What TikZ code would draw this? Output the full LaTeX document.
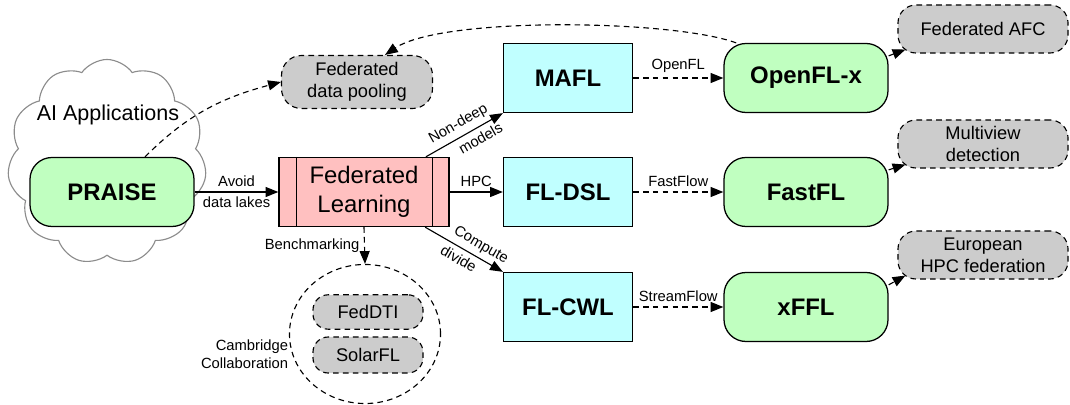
\documentclass[tikz,border=0pt]{standalone}
\usepackage{fontspec}
\setmainfont{Liberation Sans}
\usetikzlibrary{arrows.meta,shapes.symbols,shapes.geometric}

\definecolor{appgreen}{HTML}{C0FFC0}
\definecolor{toolcyan}{HTML}{C0FFFF}
\definecolor{flpink}{HTML}{FFC0C0}
\definecolor{usegray}{HTML}{CCCCCC}
\definecolor{cloudgray}{HTML}{8C8C8C}

\newcommand{\bigfont}{\fontsize{17}{20.4}\selectfont}
\newcommand{\midfont}{\fontsize{13}{15.6}\selectfont}
\newcommand{\cloudfont}{\fontsize{15.3}{18}\selectfont}
\newcommand{\lblfont}{\fontsize{10.5}{12.6}\selectfont}

\begin{document}
\begin{tikzpicture}[x=0.025cm, y=0.025cm]

%-------------------------------------------------
% Styles
%-------------------------------------------------
\tikzset{
  app/.style={rectangle, rounded corners=0.55cm, draw, line width=0.9pt, fill=appgreen,
    minimum width=4.1cm, minimum height=1.725cm, font=\bigfont\bfseries},
  tool/.style={rectangle, draw, line width=0.9pt, fill=toolcyan,
    minimum width=3.225cm, minimum height=1.725cm, font=\bigfont\bfseries},
  flbox/.style={rectangle, draw, line width=0.9pt, fill=flpink, align=center,
    minimum width=4.25cm, minimum height=1.725cm, font=\bigfont},
  usecase/.style={rectangle, rounded corners=0.45cm, draw, line width=0.8pt,
    dash pattern=on 4pt off 3pt, fill=usegray, align=center,
    minimum width=4.25cm, minimum height=1.2cm, font=\midfont},
  flow/.style={-{Triangle[length=3.2mm,width=2.5mm]}, line width=0.8pt},
  dashflow/.style={flow, dash pattern=on 4pt off 3pt},
  lbl/.style={font=\lblfont}
}

\useasboundingbox (0,0) rectangle (1070,-405);

%-------------------------------------------------
% AI applications cloud
%-------------------------------------------------
\node[cloud, cloud puffs=11, cloud puff arc=110, draw=cloudgray, line width=0.8pt,
  fill=white, minimum width=4.975cm, minimum height=5.125cm] (cloud) at (107,-162) {};
\node[font=\cloudfont] (apps) at (108,-115) {AI Applications};

\node[app] (praise) at (112,-192) {PRAISE};

%-------------------------------------------------
% Federated learning
%-------------------------------------------------
\node[flbox] (fl) at (364,-192) {Federated\\Learning};
\draw[line width=0.9pt] ([xshift=0.45cm]fl.north west) -- ([xshift=0.45cm]fl.south west);
\draw[line width=0.9pt] ([xshift=-0.42cm]fl.north east) -- ([xshift=-0.42cm]fl.south east);

\node[usecase, minimum width=3.775cm, minimum height=1.325cm, rounded corners=0.5cm]
  (pooling) at (357,-82) {Federated\\data pooling};

% Cambridge collaboration
\node[ellipse, draw, line width=0.8pt, dash pattern=on 4pt off 3pt, inner sep=0pt,
  minimum width=3.775cm, minimum height=3.475cm] (cambridge) at (365,-334) {};
\node[usecase, minimum width=2.75cm, minimum height=0.86cm, rounded corners=0.38cm]
  (feddti) at (368,-312) {FedDTI};
\node[usecase, minimum width=2.75cm, minimum height=0.9cm, rounded corners=0.38cm]
  (solarfl) at (368,-355) {SolarFL};
\node[lbl, anchor=east, align=right] (camlabel) at (293,-354) {Cambridge\\Collaboration};

%-------------------------------------------------
% Tools and frameworks
%-------------------------------------------------
\node[tool] (mafl) at (568,-78) {MAFL};
\node[tool] (fldsl) at (568,-192) {FL-DSL};
\node[tool] (flcwl) at (568,-307) {FL-CWL};

\node[app] (openflx) at (806,-78) {OpenFL-x};
\node[app] (fastfl) at (806,-192) {FastFL};
\node[app] (xffl) at (806,-307) {xFFL};

\node[usecase] (afc) at (983,-29) {Federated AFC};
\node[usecase] (multiview) at (983,-144) {Multiview\\detection};
\node[usecase] (european) at (983,-255) {European\\HPC federation};

%-------------------------------------------------
% Connectors
%-------------------------------------------------
\draw[flow] (praise) -- (fl)
  node[lbl, midway, above] {Avoid}
  node[lbl, midway, below] {data lakes};
\draw[dashflow] ([xshift=0.825cm]praise.north) to[out=45, in=195] (pooling.west);
\draw[dashflow] ([xshift=0.32cm]openflx.north west) to[out=160, in=34, looseness=0.5]
  ([xshift=0.7cm]pooling.north);

\draw[dashflow] (fl.south) -- (cambridge.north)
  node[lbl, midway, left] {Benchmarking};

\draw[flow] (fl) -- (mafl.south west)
  node[lbl, pos=0.5, sloped, above] {Non-deep}
  node[lbl, pos=0.64, sloped, below] {models};
\draw[flow] (fl) -- (fldsl)
  node[lbl, midway, above] {HPC};
\draw[flow] (fl) -- (flcwl.north west)
  node[lbl, pos=0.64, sloped, above] {Compute}
  node[lbl, pos=0.5, sloped, below] {divide};

\draw[dashflow] (mafl) -- (openflx) node[lbl, midway, above] {OpenFL};
\draw[dashflow] (fldsl) -- (fastfl) node[lbl, midway, above] {FastFlow};
\draw[dashflow] (flcwl) -- (xffl) node[lbl, midway, above] {StreamFlow};

\draw[dashflow] (openflx.15) -- ([shift={(0.2cm,0.1cm)}]afc.south west);
\draw[dashflow] (fastfl.15) -- ([shift={(0.2cm,0.1cm)}]multiview.south west);
\draw[dashflow] (xffl.15) -- ([shift={(0.2cm,0.1cm)}]european.south west);

\end{tikzpicture}
\end{document}
